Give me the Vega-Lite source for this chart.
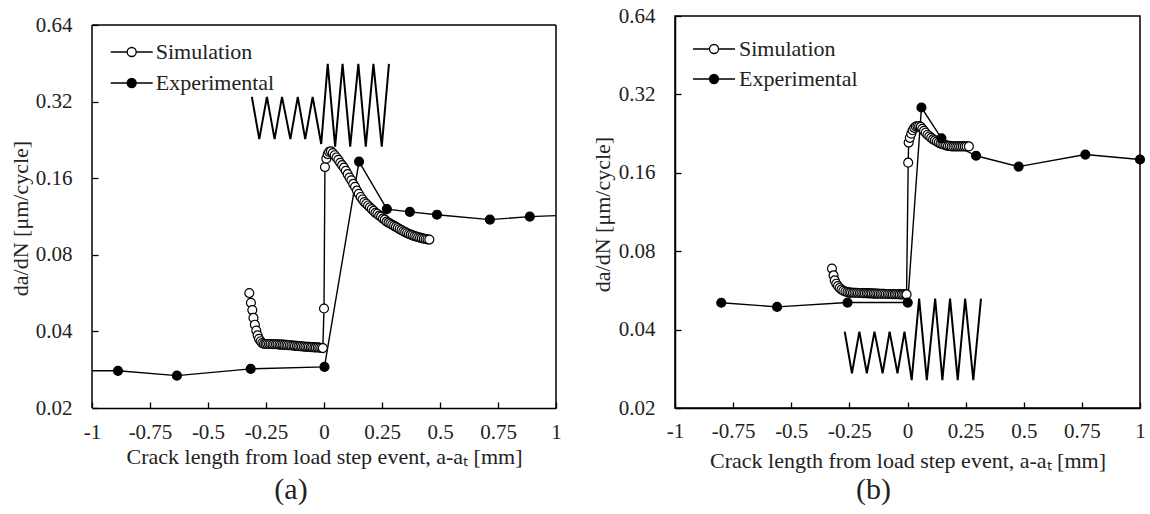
{
  "$schema": "https://vega.github.io/schema/vega-lite/v6.json",
  "padding": {"left": 9, "top": 4, "right": 0, "bottom": 0},
  "background": "white",
  "spacing": 28,
  "config": {
    "font": "Liberation Serif",
    "view": {"stroke": "black", "strokeWidth": 1.5},
    "axis": {
      "labelFont": "Liberation Serif", "labelFontSize": 21, "labelColor": "#222",
      "titleFont": "Liberation Serif", "titleFontSize": 22, "titleFontWeight": "normal", "titleColor": "#222",
      "domainColor": "black", "domainWidth": 1.5, "tickColor": "black", "tickWidth": 1.3, "tickSize": -6,
      "grid": false, "labelFlush": false, "labelOverlap": false
    }
  },
  "resolve": {
    "scale": {"x": "independent", "y": "independent", "fill": "independent"},
    "axis": {"x": "independent", "y": "independent"},
    "legend": {"fill": "independent"}
  },
  "datasets": {
    "dataA": [
      {"series": "Simulation", "x": -0.322, "v": 0.0566},
      {"series": "Simulation", "x": -0.315, "v": 0.0518},
      {"series": "Simulation", "x": -0.309, "v": 0.0485},
      {"series": "Simulation", "x": -0.304, "v": 0.0452},
      {"series": "Simulation", "x": -0.298, "v": 0.0425},
      {"series": "Simulation", "x": -0.292, "v": 0.0403},
      {"series": "Simulation", "x": -0.286, "v": 0.0386},
      {"series": "Simulation", "x": -0.280, "v": 0.0374},
      {"series": "Simulation", "x": -0.273, "v": 0.0366},
      {"series": "Simulation", "x": -0.266, "v": 0.0360},
      {"series": "Simulation", "x": -0.259, "v": 0.0357},
      {"series": "Simulation", "x": -0.252, "v": 0.0357},
      {"series": "Simulation", "x": -0.245, "v": 0.0357},
      {"series": "Simulation", "x": -0.237, "v": 0.0357},
      {"series": "Simulation", "x": -0.230, "v": 0.0357},
      {"series": "Simulation", "x": -0.222, "v": 0.0356},
      {"series": "Simulation", "x": -0.215, "v": 0.0356},
      {"series": "Simulation", "x": -0.207, "v": 0.0356},
      {"series": "Simulation", "x": -0.200, "v": 0.0356},
      {"series": "Simulation", "x": -0.192, "v": 0.0355},
      {"series": "Simulation", "x": -0.185, "v": 0.0355},
      {"series": "Simulation", "x": -0.177, "v": 0.0355},
      {"series": "Simulation", "x": -0.170, "v": 0.0354},
      {"series": "Simulation", "x": -0.162, "v": 0.0354},
      {"series": "Simulation", "x": -0.155, "v": 0.0353},
      {"series": "Simulation", "x": -0.147, "v": 0.0353},
      {"series": "Simulation", "x": -0.140, "v": 0.0352},
      {"series": "Simulation", "x": -0.132, "v": 0.0352},
      {"series": "Simulation", "x": -0.125, "v": 0.0351},
      {"series": "Simulation", "x": -0.117, "v": 0.0351},
      {"series": "Simulation", "x": -0.110, "v": 0.0350},
      {"series": "Simulation", "x": -0.102, "v": 0.0350},
      {"series": "Simulation", "x": -0.095, "v": 0.0349},
      {"series": "Simulation", "x": -0.087, "v": 0.0349},
      {"series": "Simulation", "x": -0.080, "v": 0.0348},
      {"series": "Simulation", "x": -0.072, "v": 0.0348},
      {"series": "Simulation", "x": -0.065, "v": 0.0348},
      {"series": "Simulation", "x": -0.057, "v": 0.0347},
      {"series": "Simulation", "x": -0.050, "v": 0.0347},
      {"series": "Simulation", "x": -0.042, "v": 0.0346},
      {"series": "Simulation", "x": -0.035, "v": 0.0346},
      {"series": "Simulation", "x": -0.027, "v": 0.0346},
      {"series": "Simulation", "x": -0.020, "v": 0.0345},
      {"series": "Simulation", "x": -0.012, "v": 0.0345},
      {"series": "Simulation", "x": -0.005, "v": 0.0344},
      {"series": "Simulation", "x": 0.000, "v": 0.0492},
      {"series": "Simulation", "x": 0.004, "v": 0.177},
      {"series": "Simulation", "x": 0.010, "v": 0.191},
      {"series": "Simulation", "x": 0.016, "v": 0.199},
      {"series": "Simulation", "x": 0.022, "v": 0.203},
      {"series": "Simulation", "x": 0.030, "v": 0.204},
      {"series": "Simulation", "x": 0.038, "v": 0.201},
      {"series": "Simulation", "x": 0.046, "v": 0.197},
      {"series": "Simulation", "x": 0.054, "v": 0.193},
      {"series": "Simulation", "x": 0.062, "v": 0.189},
      {"series": "Simulation", "x": 0.070, "v": 0.184},
      {"series": "Simulation", "x": 0.078, "v": 0.180},
      {"series": "Simulation", "x": 0.086, "v": 0.176},
      {"series": "Simulation", "x": 0.094, "v": 0.171},
      {"series": "Simulation", "x": 0.102, "v": 0.166},
      {"series": "Simulation", "x": 0.110, "v": 0.161},
      {"series": "Simulation", "x": 0.118, "v": 0.157},
      {"series": "Simulation", "x": 0.126, "v": 0.152},
      {"series": "Simulation", "x": 0.134, "v": 0.148},
      {"series": "Simulation", "x": 0.142, "v": 0.143},
      {"series": "Simulation", "x": 0.150, "v": 0.139},
      {"series": "Simulation", "x": 0.158, "v": 0.135},
      {"series": "Simulation", "x": 0.166, "v": 0.132},
      {"series": "Simulation", "x": 0.174, "v": 0.129},
      {"series": "Simulation", "x": 0.182, "v": 0.127},
      {"series": "Simulation", "x": 0.190, "v": 0.125},
      {"series": "Simulation", "x": 0.198, "v": 0.123},
      {"series": "Simulation", "x": 0.206, "v": 0.121},
      {"series": "Simulation", "x": 0.214, "v": 0.119},
      {"series": "Simulation", "x": 0.222, "v": 0.117},
      {"series": "Simulation", "x": 0.230, "v": 0.116},
      {"series": "Simulation", "x": 0.238, "v": 0.114},
      {"series": "Simulation", "x": 0.246, "v": 0.113},
      {"series": "Simulation", "x": 0.254, "v": 0.111},
      {"series": "Simulation", "x": 0.262, "v": 0.110},
      {"series": "Simulation", "x": 0.270, "v": 0.108},
      {"series": "Simulation", "x": 0.278, "v": 0.107},
      {"series": "Simulation", "x": 0.286, "v": 0.106},
      {"series": "Simulation", "x": 0.294, "v": 0.105},
      {"series": "Simulation", "x": 0.302, "v": 0.104},
      {"series": "Simulation", "x": 0.310, "v": 0.103},
      {"series": "Simulation", "x": 0.318, "v": 0.102},
      {"series": "Simulation", "x": 0.326, "v": 0.101},
      {"series": "Simulation", "x": 0.334, "v": 0.100},
      {"series": "Simulation", "x": 0.342, "v": 0.0990},
      {"series": "Simulation", "x": 0.350, "v": 0.0982},
      {"series": "Simulation", "x": 0.358, "v": 0.0974},
      {"series": "Simulation", "x": 0.366, "v": 0.0966},
      {"series": "Simulation", "x": 0.374, "v": 0.0960},
      {"series": "Simulation", "x": 0.382, "v": 0.0954},
      {"series": "Simulation", "x": 0.390, "v": 0.0948},
      {"series": "Simulation", "x": 0.398, "v": 0.0943},
      {"series": "Simulation", "x": 0.406, "v": 0.0938},
      {"series": "Simulation", "x": 0.414, "v": 0.0934},
      {"series": "Simulation", "x": 0.422, "v": 0.0930},
      {"series": "Simulation", "x": 0.430, "v": 0.0926},
      {"series": "Simulation", "x": 0.438, "v": 0.0923},
      {"series": "Simulation", "x": 0.446, "v": 0.0920},
      {"series": "Simulation", "x": 0.454, "v": 0.0918},
      {"series": "Experimental", "x": -1.10, "v": 0.0280},
      {"series": "Experimental", "x": -0.888, "v": 0.0280},
      {"series": "Experimental", "x": -0.634, "v": 0.0268},
      {"series": "Experimental", "x": -0.316, "v": 0.0285},
      {"series": "Experimental", "x": 0.002, "v": 0.0290},
      {"series": "Experimental", "x": 0.151, "v": 0.186},
      {"series": "Experimental", "x": 0.271, "v": 0.121},
      {"series": "Experimental", "x": 0.370, "v": 0.118},
      {"series": "Experimental", "x": 0.487, "v": 0.115},
      {"series": "Experimental", "x": 0.715, "v": 0.110},
      {"series": "Experimental", "x": 0.887, "v": 0.113},
      {"series": "Experimental", "x": 1.10, "v": 0.115}
    ],
    "zigA": [
      {"x": -0.311, "v": 0.334}, {"x": -0.279, "v": 0.228}, {"x": -0.246, "v": 0.334},
      {"x": -0.213, "v": 0.228}, {"x": -0.181, "v": 0.334}, {"x": -0.145, "v": 0.228},
      {"x": -0.113, "v": 0.334}, {"x": -0.081, "v": 0.228}, {"x": -0.049, "v": 0.334},
      {"x": -0.012, "v": 0.218}, {"x": 0.016, "v": 0.450}, {"x": 0.048, "v": 0.213},
      {"x": 0.080, "v": 0.450}, {"x": 0.113, "v": 0.213}, {"x": 0.148, "v": 0.450},
      {"x": 0.180, "v": 0.213}, {"x": 0.213, "v": 0.450}, {"x": 0.249, "v": 0.213},
      {"x": 0.280, "v": 0.450}
    ],
    "dataB": [
      {"series": "Simulation", "x": -0.325, "v": 0.0686},
      {"series": "Simulation", "x": -0.318, "v": 0.0646},
      {"series": "Simulation", "x": -0.313, "v": 0.0618},
      {"series": "Simulation", "x": -0.306, "v": 0.0600},
      {"series": "Simulation", "x": -0.299, "v": 0.0588},
      {"series": "Simulation", "x": -0.292, "v": 0.0578},
      {"series": "Simulation", "x": -0.284, "v": 0.0570},
      {"series": "Simulation", "x": -0.276, "v": 0.0564},
      {"series": "Simulation", "x": -0.267, "v": 0.0560},
      {"series": "Simulation", "x": -0.258, "v": 0.0557},
      {"series": "Simulation", "x": -0.250, "v": 0.0555},
      {"series": "Simulation", "x": -0.243, "v": 0.0555},
      {"series": "Simulation", "x": -0.235, "v": 0.0554},
      {"series": "Simulation", "x": -0.228, "v": 0.0554},
      {"series": "Simulation", "x": -0.220, "v": 0.0554},
      {"series": "Simulation", "x": -0.213, "v": 0.0553},
      {"series": "Simulation", "x": -0.205, "v": 0.0553},
      {"series": "Simulation", "x": -0.198, "v": 0.0553},
      {"series": "Simulation", "x": -0.190, "v": 0.0552},
      {"series": "Simulation", "x": -0.183, "v": 0.0552},
      {"series": "Simulation", "x": -0.175, "v": 0.0552},
      {"series": "Simulation", "x": -0.168, "v": 0.0551},
      {"series": "Simulation", "x": -0.160, "v": 0.0551},
      {"series": "Simulation", "x": -0.153, "v": 0.0551},
      {"series": "Simulation", "x": -0.145, "v": 0.0550},
      {"series": "Simulation", "x": -0.138, "v": 0.0550},
      {"series": "Simulation", "x": -0.130, "v": 0.0550},
      {"series": "Simulation", "x": -0.123, "v": 0.0549},
      {"series": "Simulation", "x": -0.115, "v": 0.0549},
      {"series": "Simulation", "x": -0.108, "v": 0.0549},
      {"series": "Simulation", "x": -0.100, "v": 0.0549},
      {"series": "Simulation", "x": -0.093, "v": 0.0548},
      {"series": "Simulation", "x": -0.085, "v": 0.0548},
      {"series": "Simulation", "x": -0.078, "v": 0.0548},
      {"series": "Simulation", "x": -0.070, "v": 0.0548},
      {"series": "Simulation", "x": -0.063, "v": 0.0547},
      {"series": "Simulation", "x": -0.055, "v": 0.0547},
      {"series": "Simulation", "x": -0.048, "v": 0.0547},
      {"series": "Simulation", "x": -0.040, "v": 0.0547},
      {"series": "Simulation", "x": -0.033, "v": 0.0546},
      {"series": "Simulation", "x": -0.025, "v": 0.0546},
      {"series": "Simulation", "x": -0.018, "v": 0.0546},
      {"series": "Simulation", "x": -0.010, "v": 0.0546},
      {"series": "Simulation", "x": -0.004, "v": 0.0546},
      {"series": "Simulation", "x": 0.003, "v": 0.175},
      {"series": "Simulation", "x": 0.005, "v": 0.209},
      {"series": "Simulation", "x": 0.010, "v": 0.218},
      {"series": "Simulation", "x": 0.016, "v": 0.226},
      {"series": "Simulation", "x": 0.022, "v": 0.233},
      {"series": "Simulation", "x": 0.029, "v": 0.238},
      {"series": "Simulation", "x": 0.036, "v": 0.241},
      {"series": "Simulation", "x": 0.043, "v": 0.242},
      {"series": "Simulation", "x": 0.050, "v": 0.242},
      {"series": "Simulation", "x": 0.057, "v": 0.240},
      {"series": "Simulation", "x": 0.064, "v": 0.236},
      {"series": "Simulation", "x": 0.071, "v": 0.232},
      {"series": "Simulation", "x": 0.078, "v": 0.228},
      {"series": "Simulation", "x": 0.086, "v": 0.224},
      {"series": "Simulation", "x": 0.094, "v": 0.221},
      {"series": "Simulation", "x": 0.102, "v": 0.218},
      {"series": "Simulation", "x": 0.110, "v": 0.215},
      {"series": "Simulation", "x": 0.118, "v": 0.213},
      {"series": "Simulation", "x": 0.126, "v": 0.211},
      {"series": "Simulation", "x": 0.134, "v": 0.209},
      {"series": "Simulation", "x": 0.142, "v": 0.207},
      {"series": "Simulation", "x": 0.150, "v": 0.206},
      {"series": "Simulation", "x": 0.158, "v": 0.205},
      {"series": "Simulation", "x": 0.166, "v": 0.204},
      {"series": "Simulation", "x": 0.174, "v": 0.203},
      {"series": "Simulation", "x": 0.182, "v": 0.203},
      {"series": "Simulation", "x": 0.190, "v": 0.202},
      {"series": "Simulation", "x": 0.198, "v": 0.202},
      {"series": "Simulation", "x": 0.206, "v": 0.202},
      {"series": "Simulation", "x": 0.214, "v": 0.202},
      {"series": "Simulation", "x": 0.222, "v": 0.202},
      {"series": "Simulation", "x": 0.230, "v": 0.202},
      {"series": "Simulation", "x": 0.238, "v": 0.202},
      {"series": "Simulation", "x": 0.246, "v": 0.202},
      {"series": "Simulation", "x": 0.254, "v": 0.202},
      {"series": "Simulation", "x": 0.264, "v": 0.202},
      {"series": "Experimental", "x": -0.801, "v": 0.0507},
      {"series": "Experimental", "x": -0.561, "v": 0.0489},
      {"series": "Experimental", "x": -0.258, "v": 0.0508},
      {"series": "Experimental", "x": 0.001, "v": 0.0508},
      {"series": "Experimental", "x": 0.060, "v": 0.285},
      {"series": "Experimental", "x": 0.146, "v": 0.217},
      {"series": "Experimental", "x": 0.295, "v": 0.186},
      {"series": "Experimental", "x": 0.478, "v": 0.169},
      {"series": "Experimental", "x": 0.765, "v": 0.188},
      {"series": "Experimental", "x": 1.0, "v": 0.180}
    ],
    "zigB": [
      {"x": -0.270, "v": 0.0393}, {"x": -0.239, "v": 0.0272}, {"x": -0.207, "v": 0.0393},
      {"x": -0.175, "v": 0.0272}, {"x": -0.142, "v": 0.0393}, {"x": -0.107, "v": 0.0272},
      {"x": -0.077, "v": 0.0393}, {"x": -0.043, "v": 0.0272}, {"x": -0.013, "v": 0.0393},
      {"x": 0.018, "v": 0.0256}, {"x": 0.050, "v": 0.0526}, {"x": 0.083, "v": 0.0256},
      {"x": 0.119, "v": 0.0526}, {"x": 0.150, "v": 0.0256}, {"x": 0.183, "v": 0.0526},
      {"x": 0.216, "v": 0.0256}, {"x": 0.248, "v": 0.0526}, {"x": 0.283, "v": 0.0256},
      {"x": 0.316, "v": 0.0526}
    ]
  },
  "hconcat": [
    {
      "width": 464,
      "height": 392,
      "view": {"stroke": null},
      "title": {"text": "(a)", "orient": "bottom", "fontSize": 30, "font": "Liberation Serif", "fontWeight": "normal", "color": "#222", "offset": 8, "dx": -33},
      "layer": [
        {
          "data": {"name": "zigA"},
          "mark": {"type": "line", "stroke": "black", "strokeWidth": 2},
          "encoding": {
            "x": {
              "field": "x", "type": "quantitative",
              "scale": {"domain": [-1, 1], "nice": false, "zero": false},
              "axis": {
                "values": [-1, -0.75, -0.5, -0.25, 0, 0.25, 0.5, 0.75, 1],
                "labelExpr": "datum.value < 0 ? '-' + format(-datum.value, '~g') : format(datum.value, '~g')",
                "labelPadding": 19,
                "title": "Crack length from load step event, a-aₜ [mm]",
                "titleY": 48, "titleBaseline": "middle"
              }
            },
            "y": {
              "field": "v", "type": "quantitative",
              "scale": {"type": "log", "base": 2, "domain": [0.02, 0.6944], "nice": false},
              "axis": {
                "values": [0.02, 0.04, 0.08, 0.16, 0.32, 0.64],
                "format": ".2f",
                "labelPadding": 26,
                "domain": false,
                "title": "da/dN [μm/cycle]",
                "titleX": -71.5, "titleY": 202, "titleBaseline": "middle"
              }
            }
          }
        },
        {
          "data": {"name": "dataA"},
          "mark": {"type": "line", "stroke": "black", "strokeWidth": 1.4, "clip": true},
          "encoding": {
            "x": {"field": "x", "type": "quantitative"},
            "y": {"field": "v", "type": "quantitative"},
            "detail": {"field": "series"}
          }
        },
        {
          "data": {"name": "dataA"},
          "mark": {"type": "point", "shape": "circle", "filled": true, "size": 80, "stroke": "black", "strokeWidth": 1.2, "opacity": 1, "clip": true},
          "encoding": {
            "x": {"field": "x", "type": "quantitative"},
            "y": {"field": "v", "type": "quantitative"},
            "fill": {
              "field": "series", "type": "nominal",
              "scale": {"domain": ["Simulation", "Experimental"], "range": ["white", "black"]},
              "legend": {
                "orient": "none", "legendX": 28.7, "legendY": 25, "title": null, "direction": "vertical",
                "symbolType": "M-4.667,0L-1,0M1,0L4.667,0M-1,0A1,1,0,1,0,1,0A1,1,0,1,0,-1,0Z",
                "symbolSize": 81, "symbolStrokeWidth": 1.3, "symbolStrokeColor": "black",
                "labelFont": "Liberation Serif", "labelFontSize": 22, "labelColor": "#222",
                "labelOffset": 13, "rowPadding": 9, "padding": 0
              }
            }
          }
        },
        {
          "data": {"values": [{}]},
          "mark": {"type": "rule", "stroke": "black", "strokeWidth": 1.5},
          "encoding": {"x": {"datum": -1, "type": "quantitative"}, "y": {"datum": 0.02, "type": "quantitative"}, "y2": {"datum": 0.64}}
        },
        {
          "data": {"values": [{}]},
          "mark": {"type": "rule", "stroke": "black", "strokeWidth": 1.5},
          "encoding": {"x": {"datum": 1, "type": "quantitative"}, "y": {"datum": 0.02, "type": "quantitative"}, "y2": {"datum": 0.64}}
        },
        {
          "data": {"values": [{}]},
          "mark": {"type": "rule", "stroke": "black", "strokeWidth": 1.5},
          "encoding": {"y": {"datum": 0.64, "type": "quantitative"}, "x": {"datum": -1, "type": "quantitative"}, "x2": {"datum": 1}}
        }
      ]
    },
    {
      "width": 465,
      "height": 392,
      "title": {"text": "(b)", "orient": "bottom", "fontSize": 30, "font": "Liberation Serif", "fontWeight": "normal", "color": "#222", "offset": 4, "dx": -34},
      "layer": [
        {
          "data": {"name": "zigB"},
          "mark": {"type": "line", "stroke": "black", "strokeWidth": 2},
          "encoding": {
            "x": {
              "field": "x", "type": "quantitative",
              "scale": {"domain": [-1, 1], "nice": false, "zero": false},
              "axis": {
                "values": [-1, -0.75, -0.5, -0.25, 0, 0.25, 0.5, 0.75, 1],
                "labelExpr": "datum.value < 0 ? '-' + format(-datum.value, '~g') : format(datum.value, '~g')",
                "labelPadding": 18,
                "title": "Crack length from load step event, a-aₜ [mm]",
                "titleY": 52, "titleBaseline": "middle"
              }
            },
            "y": {
              "field": "v", "type": "quantitative",
              "scale": {"type": "log", "base": 2, "domain": [0.02, 0.64], "nice": false},
              "axis": {
                "values": [0.02, 0.04, 0.08, 0.16, 0.32, 0.64],
                "format": ".2f",
                "labelPadding": 26,
                "title": "da/dN [μm/cycle]",
                "titleX": -73, "titleY": 198, "titleBaseline": "middle"
              }
            }
          }
        },
        {
          "data": {"name": "dataB"},
          "mark": {"type": "line", "stroke": "black", "strokeWidth": 1.4},
          "encoding": {
            "x": {"field": "x", "type": "quantitative"},
            "y": {"field": "v", "type": "quantitative"},
            "detail": {"field": "series"}
          }
        },
        {
          "data": {"name": "dataB"},
          "mark": {"type": "point", "shape": "circle", "filled": true, "size": 80, "stroke": "black", "strokeWidth": 1.2, "opacity": 1},
          "encoding": {
            "x": {"field": "x", "type": "quantitative"},
            "y": {"field": "v", "type": "quantitative"},
            "fill": {
              "field": "series", "type": "nominal",
              "scale": {"domain": ["Simulation", "Experimental"], "range": ["white", "black"]},
              "legend": {
                "orient": "none", "legendX": 28, "legendY": 22, "title": null, "direction": "vertical",
                "symbolType": "M-4.667,0L-1,0M1,0L4.667,0M-1,0A1,1,0,1,0,1,0A1,1,0,1,0,-1,0Z",
                "symbolSize": 81, "symbolStrokeWidth": 1.3, "symbolStrokeColor": "black",
                "labelFont": "Liberation Serif", "labelFontSize": 22, "labelColor": "#222",
                "labelOffset": 14, "rowPadding": 8, "padding": 0
              }
            }
          }
        }
      ]
    }
  ]
}
